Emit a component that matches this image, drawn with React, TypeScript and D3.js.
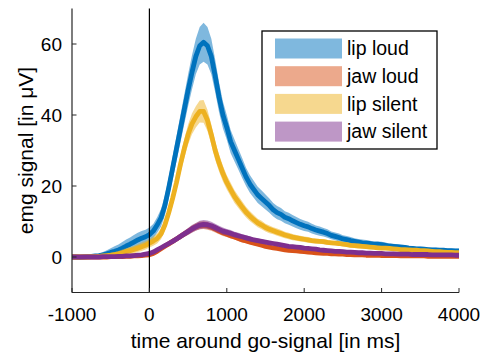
import React from "react";
import * as d3 from "d3";

// sample times (ms), 50 ms steps from -1000 to 4000
const times: number[] = d3.range(-1000, 4001, 50);

const seriesNames = ["lip loud", "jaw loud", "lip silent", "jaw silent"];
const lineColors = ["#0072BD", "#D95319", "#EDB120", "#7E2F8E"];

const lipLoud = [
  0.0, 0.0, -0.1, 0.0, 0.1, 0.2, 0.3, 0.4, 0.6, 0.9, 1.3,
  1.6, 2.0, 2.5, 3.1, 3.6, 4.2, 4.8, 5.3, 5.7, 6.3,
  7.3, 9.0, 11.0, 14.5, 19.5, 25.0, 30.5, 36.0, 41.5, 47.0,
  52.0, 56.5, 59.5, 60.5, 59.5, 56.5, 51.0, 45.0, 40.0, 36.5,
  32.5, 30.0, 27.5, 25.0, 22.5, 20.5, 19.0, 17.5, 16.5, 15.5,
  14.5, 13.3, 12.5, 12.0, 11.2, 10.8, 10.2, 9.7, 9.2, 8.8,
  8.5, 8.0, 7.6, 7.3, 7.0, 6.6, 6.1, 5.8, 5.5, 5.1,
  4.9, 4.6, 4.4, 4.2, 4.0, 3.9, 3.8, 3.6, 3.6, 3.5,
  3.3, 3.1, 3.0, 2.9, 2.8, 2.7, 2.5, 2.4, 2.3, 2.3,
  2.2, 2.1, 2.0, 2.0, 1.9, 1.9, 1.8, 1.8, 1.7, 1.7,
];
const lipLoudErr = [
  0.3, 0.3, 0.3, 0.3, 0.3, 0.3, 0.3, 0.6, 0.8, 1.0, 1.2,
  1.4, 1.5, 1.7, 1.8, 1.9, 2.0, 2.0, 2.0, 2.0, 2.0,
  2.0, 2.2, 2.5, 2.8, 3.0, 3.3, 3.6, 3.9, 4.2, 4.5,
  4.8, 5.0, 5.3, 5.5, 5.3, 5.0, 4.6, 4.2, 3.8, 3.5,
  3.3, 3.1, 2.9, 2.8, 2.6, 2.5, 2.4, 2.3, 2.2, 2.1,
  2.0, 1.9, 1.9, 1.8, 1.7, 1.7, 1.6, 1.6, 1.5, 1.5,
  1.4, 1.4, 1.3, 1.3, 1.2, 1.2, 1.1, 1.1, 1.1, 1.0,
  1.0, 1.0, 0.9, 0.9, 0.9, 0.9, 0.8, 0.8, 0.8, 0.8,
  0.8, 0.7, 0.7, 0.7, 0.7, 0.7, 0.7, 0.7, 0.6, 0.6,
  0.6, 0.6, 0.6, 0.6, 0.6, 0.6, 0.6, 0.6, 0.6, 0.6,
];

const jawLoud = [
  0, 0, 0, 0, 0, 0, 0, 0, 0, 0, 0.1,
  0.1, 0.1, 0.1, 0.2, 0.2, 0.3, 0.3, 0.4, 0.5, 0.6,
  1.0, 1.6, 2.3, 3.0, 3.7, 4.4, 5.1, 5.8, 6.5, 7.2,
  7.9, 8.5, 8.9, 9.0, 8.8, 8.4, 7.9, 7.3, 6.8, 6.4,
  6.0, 5.6, 5.2, 4.8, 4.5, 4.2, 3.9, 3.6, 3.3, 3.0,
  2.8, 2.6, 2.4, 2.2, 2.0, 1.9, 1.8, 1.7, 1.6, 1.5,
  1.4, 1.3, 1.2, 1.1, 1.0, 1.0, 0.9, 0.9, 0.8, 0.8,
  0.7, 0.7, 0.6, 0.6, 0.6, 0.5, 0.5, 0.5, 0.5, 0.4,
  0.4, 0.4, 0.4, 0.4, 0.3, 0.3, 0.3, 0.3, 0.3, 0.3,
  0.3, 0.2, 0.2, 0.2, 0.2, 0.2, 0.2, 0.2, 0.2, 0.2,
];
const jawLoudErr = [
  0.2, 0.2, 0.2, 0.2, 0.2, 0.2, 0.2, 0.2, 0.2, 0.2, 0.2,
  0.2, 0.2, 0.2, 0.2, 0.2, 0.3, 0.3, 0.3, 0.3, 0.3,
  0.4, 0.5, 0.5, 0.6, 0.6, 0.7, 0.7, 0.8, 0.8, 0.9,
  1.0, 1.0, 1.1, 1.1, 1.1, 1.0, 1.0, 0.9, 0.9, 0.8,
  0.8, 0.7, 0.7, 0.7, 0.6, 0.6, 0.6, 0.5, 0.5, 0.5,
  0.5, 0.4, 0.4, 0.4, 0.4, 0.4, 0.4, 0.3, 0.3, 0.3,
  0.3, 0.3, 0.3, 0.3, 0.3, 0.3, 0.3, 0.3, 0.3, 0.3,
  0.3, 0.3, 0.3, 0.3, 0.3, 0.3, 0.3, 0.3, 0.3, 0.3,
  0.3, 0.3, 0.3, 0.3, 0.3, 0.3, 0.3, 0.3, 0.3, 0.3,
  0.3, 0.3, 0.3, 0.3, 0.3, 0.3, 0.3, 0.3, 0.3, 0.3,
];

const lipSilent = [
  0, 0, 0, 0, 0, 0.1, 0.1, 0.2, 0.3, 0.4, 0.5,
  0.7, 0.9, 1.2, 1.5, 1.8, 2.1, 2.5, 2.9, 3.3, 3.9,
  4.5, 5.2, 6.5, 9.0, 12.5, 16.5, 21.0, 26.0, 30.5, 34.5,
  37.5, 39.5, 41.0, 41.0, 38.5, 34.5, 30.0, 26.5, 23.5, 21.0,
  19.0, 17.0, 15.5, 14.0, 12.6, 11.5, 10.5, 9.6, 9.0, 8.3,
  7.8, 7.4, 7.0, 6.6, 6.2, 5.9, 5.6, 5.4, 5.2, 5.0,
  4.8, 4.6, 4.5, 4.4, 4.3, 4.1, 4.0, 3.9, 3.8, 3.6,
  3.5, 3.3, 3.2, 3.1, 3.0, 2.9, 2.8, 2.7, 2.6, 2.5,
  2.5, 2.4, 2.3, 2.2, 2.1, 2.1, 2.0, 1.9, 1.9, 1.8,
  1.8, 1.7, 1.6, 1.5, 1.5, 1.4, 1.3, 1.3, 1.2, 1.2,
];
const lipSilentErr = [
  0.2, 0.2, 0.2, 0.2, 0.2, 0.2, 0.3, 0.3, 0.4, 0.5, 0.6,
  0.7, 0.8, 0.9, 1.0, 1.0, 1.1, 1.1, 1.2, 1.2, 1.2,
  1.3, 1.4, 1.5, 1.7, 1.9, 2.1, 2.3, 2.5, 2.7, 2.8,
  2.9, 3.0, 3.1, 3.2, 3.0, 2.8, 2.6, 2.4, 2.2, 2.0,
  1.9, 1.8, 1.7, 1.6, 1.5, 1.4, 1.3, 1.2, 1.2, 1.1,
  1.1, 1.0, 1.0, 1.0, 0.9, 0.9, 0.9, 0.8, 0.8, 0.8,
  0.8, 0.7, 0.7, 0.7, 0.7, 0.7, 0.6, 0.6, 0.6, 0.6,
  0.6, 0.6, 0.5, 0.5, 0.5, 0.5, 0.5, 0.5, 0.5, 0.5,
  0.5, 0.5, 0.5, 0.4, 0.4, 0.4, 0.4, 0.4, 0.4, 0.4,
  0.4, 0.4, 0.4, 0.4, 0.4, 0.4, 0.4, 0.4, 0.4, 0.4,
];

const jawSilent = [
  0, 0, 0, 0, 0, 0, 0, 0, 0.1, 0.1, 0.1,
  0.1, 0.2, 0.2, 0.3, 0.3, 0.4, 0.5, 0.6, 0.8, 1.0,
  1.4, 2.0, 2.6, 3.2, 3.8, 4.4, 5.1, 5.8, 6.5, 7.2,
  7.9, 8.5, 9.0, 9.2, 9.1, 8.8, 8.3, 7.8, 7.3, 7.0,
  6.7, 6.3, 6.0, 5.7, 5.4, 5.1, 4.8, 4.6, 4.4, 4.2,
  4.0, 3.8, 3.6, 3.4, 3.2, 3.0, 2.9, 2.8, 2.7, 2.5,
  2.4, 2.3, 2.2, 2.0, 1.9, 1.8, 1.7, 1.6, 1.6, 1.5,
  1.4, 1.4, 1.3, 1.2, 1.2, 1.1, 1.1, 1.0, 1.0, 1.0,
  0.9, 0.9, 0.9, 0.8, 0.8, 0.8, 0.8, 0.7, 0.7, 0.7,
  0.7, 0.7, 0.6, 0.6, 0.6, 0.6, 0.6, 0.6, 0.5, 0.5,
];
const jawSilentErr = [
  0.2, 0.2, 0.2, 0.2, 0.2, 0.2, 0.2, 0.2, 0.2, 0.2, 0.2,
  0.2, 0.2, 0.2, 0.2, 0.3, 0.3, 0.3, 0.3, 0.3, 0.3,
  0.4, 0.5, 0.5, 0.6, 0.7, 0.7, 0.8, 0.9, 0.9, 1.0,
  1.1, 1.1, 1.2, 1.2, 1.2, 1.1, 1.1, 1.0, 1.0, 0.9,
  0.9, 0.8, 0.8, 0.7, 0.7, 0.7, 0.6, 0.6, 0.6, 0.5,
  0.5, 0.5, 0.5, 0.4, 0.4, 0.4, 0.4, 0.4, 0.4, 0.4,
  0.3, 0.3, 0.3, 0.3, 0.3, 0.3, 0.3, 0.3, 0.3, 0.3,
  0.3, 0.3, 0.3, 0.3, 0.3, 0.3, 0.3, 0.3, 0.3, 0.3,
  0.3, 0.3, 0.3, 0.3, 0.3, 0.3, 0.3, 0.3, 0.3, 0.3,
  0.3, 0.3, 0.3, 0.3, 0.3, 0.3, 0.3, 0.3, 0.3, 0.3,
];

const seriesValues = [lipLoud, jawLoud, lipSilent, jawSilent];
const seriesErrors = [lipLoudErr, jawLoudErr, lipSilentErr, jawSilentErr];

const xTicks = [-1000, 0, 1000, 2000, 3000, 4000];
const yTicks = [0, 20, 40, 60];
const xLabel = "time around go-signal [in ms]";
const yLabel = "emg signal [in μV]";

const W = 481;
const H = 358;
const FONT = "'Liberation Sans', Arial, Helvetica, sans-serif";

export default function App() {
  const left = 72, right = 459, top = 8.5, bottom = 292.5;
  const x = d3.scaleLinear().domain([-1000, 4000]).range([left, right]);
  const y = d3.scaleLinear().domain([-10, 70]).range([bottom, top]);

  const line = d3
    .line<number>()
    .x((_, i) => x(times[i]))
    .y((d) => y(d));

  const area = (vals: number[], errs: number[]) =>
    d3
      .area<number>()
      .x((_, i) => x(times[i]))
      .y0((d, i) => y(d - errs[i]))
      .y1((d, i) => y(d + errs[i]))(vals) || "";

  const axisColor = "#262626";
  const legendX = 262, legendY = 31, legendW = 175, legendH = 118;

  return (
    <svg
      width={W}
      height={H}
      style={{ position: "absolute", left: 0, top: 0, background: "#fff" }}
      fontFamily={FONT}
    >
      <rect x={0} y={0} width={W} height={H} fill="#fff" />
      <defs>
        <clipPath id="plotclip">
          <rect x={left} y={top} width={right - left} height={bottom - top} />
        </clipPath>
      </defs>
      <g clipPath="url(#plotclip)">
        {seriesValues.map((vals, k) => (
          <g key={k}>
            <path d={area(vals, seriesErrors[k])} fill={lineColors[k]} fillOpacity={0.5} stroke="none" />
            <path
              d={line(vals) || ""}
              fill="none"
              stroke={lineColors[k]}
              strokeWidth={4.8}
              strokeLinejoin="round"
            />
          </g>
        ))}
      </g>
      {/* go-signal line */}
      <line x1={x(0)} x2={x(0)} y1={top} y2={bottom} stroke="#000" strokeWidth={1.2} />
      {/* axes */}
      <line x1={left} x2={left} y1={top} y2={bottom} stroke={axisColor} strokeWidth={1.2} />
      <line x1={left} x2={right} y1={bottom} y2={bottom} stroke={axisColor} strokeWidth={1.2} />
      {xTicks.map((t) => (
        <g key={t}>
          <line x1={x(t)} x2={x(t)} y1={bottom} y2={bottom - 4.5} stroke={axisColor} strokeWidth={1} />
          <text x={x(t)} y={321} textAnchor="middle" fontSize={19} fill="#000">
            {t}
          </text>
        </g>
      ))}
      {yTicks.map((t) => (
        <g key={t}>
          <line x1={left} x2={left + 4.5} y1={y(t)} y2={y(t)} stroke={axisColor} strokeWidth={1} />
          <text x={62} y={y(t)} dy="0.35em" textAnchor="end" fontSize={19} fill="#000">
            {t}
          </text>
        </g>
      ))}
      <text x={(left + right) / 2} y={348} textAnchor="middle" fontSize={21} fill="#000">
        {xLabel}
      </text>
      <text
        transform={`translate(33, ${(top + bottom) / 2}) rotate(-90)`}
        textAnchor="middle"
        fontSize={21}
        fill="#000"
      >
        {yLabel}
      </text>
      {/* legend */}
      <rect x={legendX} y={legendY} width={legendW} height={legendH} fill="#fff" stroke="#000" strokeWidth={1.3} />
      {seriesNames.map((name, k) => {
        const cy = legendY + 17.5 + k * 27.7;
        return (
          <g key={name}>
            <rect x={275} y={cy - 10} width={67} height={20} fill={lineColors[k]} fillOpacity={0.5} />
            <text x={347} y={cy} dy="0.35em" fontSize={19.5} fill="#000">
              {name}
            </text>
          </g>
        );
      })}
    </svg>
  );
}
